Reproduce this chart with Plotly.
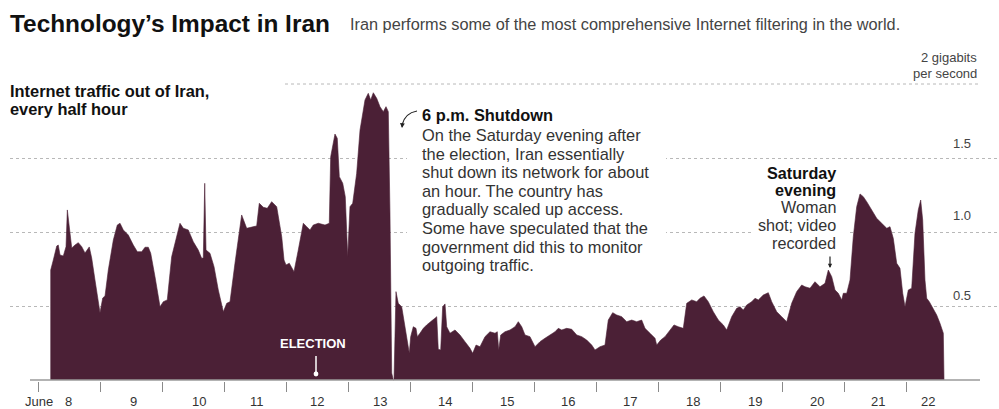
import plotly.graph_objects as go

# ---------------- data ----------------
# time in days since June 8, 00:00 ; traffic in gigabits per second
days = [0.205, 0.205, 0.247, 0.302, 0.327, 0.355, 0.408, 0.452, 0.473, 0.505,
        0.544, 0.597, 0.650, 0.705, 0.758, 0.827, 0.866, 0.919, 1.000, 1.044,
        1.081, 1.134, 1.215, 1.279, 1.323, 1.376, 1.456, 1.537, 1.602, 1.673,
        1.726, 1.779, 1.818, 1.887, 1.968, 2.021, 2.085, 2.156, 2.237, 2.290,
        2.344, 2.424, 2.505, 2.585, 2.640, 2.666, 2.689, 2.710, 2.774, 2.839,
        2.908, 2.989, 3.044, 3.097, 3.177, 3.285, 3.366, 3.447, 3.527, 3.569,
        3.634, 3.698, 3.769, 3.850, 3.931, 3.968, 4.000, 4.053, 4.092, 4.129,
        4.198, 4.279, 4.334, 4.387, 4.440, 4.521, 4.629, 4.698, 4.721, 4.763,
        4.790, 4.827, 4.860, 4.915, 4.956, 4.995, 5.032, 5.076, 5.140, 5.194,
        5.274, 5.327, 5.366, 5.408, 5.463, 5.516, 5.569, 5.613, 5.650, 5.677,
        5.705, 5.731, 5.742, 5.774, 5.811, 5.866, 5.919, 5.989, 6.011, 6.053,
        6.097, 6.118, 6.161, 6.215, 6.269, 6.323, 6.366, 6.403, 6.431, 6.456,
        6.495, 6.527, 6.565, 6.592, 6.645, 6.726, 6.806, 6.887, 6.968, 7.011,
        7.065, 7.129, 7.210, 7.290, 7.371, 7.408, 7.431, 7.463, 7.532, 7.613,
        7.694, 7.747, 7.802, 7.855, 7.935, 8.016, 8.097, 8.177, 8.258, 8.339,
        8.392, 8.447, 8.527, 8.608, 8.689, 8.769, 8.850, 8.931, 8.984, 9.065,
        9.145, 9.198, 9.269, 9.334, 9.415, 9.495, 9.576, 9.656, 9.737, 9.790,
        9.871, 9.952, 9.979, 10.044, 10.113, 10.194, 10.258, 10.327, 10.408, 10.463,
        10.544, 10.624, 10.677, 10.742, 10.811, 10.892, 10.973, 11.053, 11.108, 11.189,
        11.269, 11.323, 11.376, 11.431, 11.511, 11.565, 11.618, 11.698, 11.779, 11.834,
        11.915, 11.995, 12.076, 12.156, 12.237, 12.318, 12.371, 12.452, 12.532, 12.613,
        12.694, 12.747, 12.802, 12.855, 12.908, 12.963, 12.989, 13.044, 13.097, 13.150,
        13.205, 13.258, 13.311, 13.366, 13.447, 13.527, 13.608, 13.689, 13.742, 13.795,
        13.850, 13.903, 13.947, 13.984, 14.037, 14.092, 14.145, 14.198, 14.237, 14.269,
        14.306, 14.334, 14.376, 14.431, 14.495, 14.548, 14.602, 14.613]

gbps = [0.000, 0.743, 0.811, 0.905, 0.912, 0.845, 0.838, 0.901, 1.149, 1.036,
        0.892, 0.912, 0.928, 0.901, 0.858, 0.899, 0.824, 0.676, 0.455, 0.554,
        0.568, 0.743, 0.946, 1.047, 1.059, 1.014, 0.980, 0.912, 0.867, 0.867,
        0.897, 0.897, 0.856, 0.698, 0.495, 0.529, 0.541, 0.833, 0.980, 1.059,
        1.025, 1.014, 0.934, 0.878, 0.822, 0.824, 1.329, 0.878, 0.856, 0.766,
        0.608, 0.461, 0.518, 0.529, 0.789, 1.115, 1.025, 1.032, 1.041, 1.194,
        1.167, 1.160, 1.205, 1.171, 0.968, 0.811, 0.777, 0.789, 0.755, 0.732,
        0.878, 1.059, 1.036, 1.014, 1.047, 1.059, 1.047, 1.059, 1.509, 1.622,
        1.662, 1.633, 1.374, 1.329, 1.239, 0.833, 1.171, 1.194, 1.397, 1.689,
        1.892, 1.937, 1.892, 1.941, 1.903, 1.847, 1.813, 1.847, 1.813, 1.128,
        0.047, 0.000, 0.000, 0.597, 0.518, 0.495, 0.349, 0.180, 0.293, 0.360,
        0.349, 0.293, 0.316, 0.349, 0.372, 0.394, 0.405, 0.417, 0.428, 0.207,
        0.203, 0.495, 0.514, 0.360, 0.316, 0.338, 0.304, 0.259, 0.214, 0.180,
        0.236, 0.225, 0.293, 0.326, 0.316, 0.326, 0.203, 0.304, 0.326, 0.338,
        0.360, 0.394, 0.360, 0.304, 0.293, 0.225, 0.259, 0.282, 0.304, 0.326,
        0.349, 0.338, 0.349, 0.343, 0.304, 0.293, 0.270, 0.236, 0.203, 0.225,
        0.236, 0.405, 0.455, 0.439, 0.428, 0.394, 0.405, 0.394, 0.405, 0.349,
        0.316, 0.282, 0.236, 0.270, 0.293, 0.338, 0.372, 0.360, 0.349, 0.518,
        0.541, 0.529, 0.552, 0.568, 0.529, 0.461, 0.405, 0.372, 0.338, 0.428,
        0.484, 0.495, 0.473, 0.507, 0.529, 0.552, 0.541, 0.574, 0.590, 0.529,
        0.461, 0.428, 0.394, 0.518, 0.597, 0.642, 0.630, 0.620, 0.664, 0.630,
        0.653, 0.743, 0.698, 0.608, 0.586, 0.541, 0.586, 0.586, 0.676, 0.968,
        1.171, 1.257, 1.239, 1.205, 1.149, 1.093, 1.059, 1.025, 1.036, 0.957,
        0.789, 0.755, 0.586, 0.495, 0.608, 0.620, 0.991, 1.149, 1.216, 1.081,
        0.676, 0.552, 0.529, 0.484, 0.439, 0.383, 0.316, 0.000]

day_ticks = list(range(15))                       # midnight boundaries June 8 .. June 22
day_labels = ["8", "9", "10", "11", "12", "13", "14", "15", "16", "17",
              "18", "19", "20", "21", "22"]
label_days = [0.49, 1.54, 2.59, 3.53, 4.50, 5.52, 6.56, 7.56, 8.55, 9.55,
              10.56, 11.56, 12.56, 13.55, 14.36]
grid_vals = [0.5, 1.0, 1.5]
grid_labels = ["0.5", "1.0", "1.5"]
grid_label_shift = [11, 17, 15]
top_grid = 2.0

title = "Technology\u2019s Impact in Iran"
subtitle = "Iran performs some of the most comprehensive Internet filtering in the world."
left_note = ["Internet traffic out of Iran,", "every half hour"]
unit_note = ["2 gigabits", "per second"]
shutdown_head = "6 p.m. Shutdown"
shutdown_body = ["On the Saturday evening after",
                 "the election, Iran essentially",
                 "shut down its network for about",
                 "an hour. The country has",
                 "gradually scaled up access.",
                 "Some have speculated that the",
                 "government did this to monitor",
                 "outgoing traffic."]
sat_head = ["Saturday", "evening"]
sat_body = ["Woman", "shot; video", "recorded"]

# ---------------- styling / geometry ----------------
W, H = 999, 409
ML, MR, MT, MB = 10, 0, 50, 28
PX_PER_DAY = 62.0
PX_PER_UNIT = 148.0
X0_PX = 38.0          # pixel of day 0
Y0_PX = 380.0         # pixel of value 0
FILL = "#4b2036"
GRID = "#b8b8b8"
FONT = "Liberation Sans, Arial, Helvetica, sans-serif"
BODY = 16.4

plot_w = W - ML - MR
plot_h = H - MT - MB
x_range = [(ML - X0_PX) / PX_PER_DAY, (W - MR - X0_PX) / PX_PER_DAY]
y_range = [-(H - MB - Y0_PX) / PX_PER_UNIT, (Y0_PX - MT) / PX_PER_UNIT]


def fx(px):
    return (px - ML) / plot_w


def fy(py):
    return (H - MB - py) / plot_h


def dx(px):
    return (px - X0_PX) / PX_PER_DAY


def vy(py):
    return (Y0_PX - py) / PX_PER_UNIT


fig = go.Figure()
fig.add_trace(go.Scatter(x=days, y=gbps, mode="lines", fill="tozeroy",
                         fillcolor=FILL, line=dict(color=FILL, width=0.6),
                         hoverinfo="skip", showlegend=False))

shapes = []
# top (2 Gbps) gridline, which only spans part of the width
shapes.append(dict(type="line", xref="x", yref="y", x0=dx(285), x1=dx(978),
                   y0=top_grid, y1=top_grid, layer="below",
                   line=dict(color=GRID, width=1, dash="dot")))
# white panels behind the annotation text (interrupt the gridlines)
shapes.append(dict(type="rect", xref="x", yref="y", x0=dx(407), x1=dx(666),
                   y0=vy(276), y1=vy(102), fillcolor="white", line=dict(width=0),
                   layer="between"))
shapes.append(dict(type="rect", xref="x", yref="y", x0=dx(752), x1=dx(849),
                   y0=vy(252), y1=vy(164), fillcolor="white", line=dict(width=0),
                   layer="between"))
# baseline
shapes.append(dict(type="line", xref="x", yref="y", x0=dx(30), x1=dx(980),
                   y0=0, y1=0, line=dict(color="#9a9a9a", width=1.5)))
# curved pointer of the shutdown note
shapes.append(dict(type="path", xref="x", yref="y",
                   path=f"M {dx(417)},{vy(111)} Q {dx(405)},{vy(113)} {dx(402)},{vy(125)}",
                   line=dict(color="#222", width=1.2)))
# ELECTION pointer
shapes.append(dict(type="line", xref="x", yref="y", x0=dx(316), x1=dx(316),
                   y0=vy(356), y1=vy(372), line=dict(color="white", width=1.5)))

ann = []


def text(s, px, py, size=BODY, color="#333", bold=False, anchor="left"):
    ann.append(dict(text=f"<b>{s}</b>" if bold else s, xref="paper", yref="paper",
                    x=fx(px), y=fy(py), xanchor=anchor, yanchor="middle",
                    showarrow=False, borderpad=0,
                    font=dict(family=FONT, size=size, color=color)))


text(title, 9, 24, size=24.4, color="#111", bold=True)
text(subtitle, 349, 24, size=16.3, color="#444")
for i, s in enumerate(left_note):
    text(s, 9, 91 + 18 * i, size=16.4, color="#111", bold=True)
for i, s in enumerate(unit_note):
    text(s, 978, 57 + 16 * i, size=13, color="#444", anchor="right")
text(shutdown_head, 421, 115, size=BODY, color="#111", bold=True)
for i, s in enumerate(shutdown_body):
    text(s, 421, 135 + 18.6 * i, size=BODY, color="#333")
for i, s in enumerate(sat_head):
    text(s, 837, 173 + 16.5 * i, size=16.2, color="#111", bold=True, anchor="right")
for i, s in enumerate(sat_body):
    text(s, 837, 207 + 18.2 * i, size=16.2, color="#333", anchor="right")
text("ELECTION", 313, 343, size=13, color="white", bold=True, anchor="center")
text("June", 39, 401, size=13, color="#333", anchor="center")

# x labels (centred on each day) and y labels (sitting on their gridlines)
for d, lab in zip(label_days, day_labels):
    ann.append(dict(text=lab, xref="x", yref="paper", x=d, y=fy(401),
                    xanchor="center", yanchor="middle", showarrow=False,
                    borderpad=0, font=dict(family=FONT, size=13, color="#333")))
for v, lab, sh in zip(grid_vals, grid_labels, grid_label_shift):
    ann.append(dict(text=lab, xref="paper", yref="y", x=fx(973), y=v, yshift=sh,
                    xanchor="right", yanchor="middle", showarrow=False,
                    font=dict(family=FONT, size=13, color="#444")))

# arrowheads
ann.append(dict(text="", xref="x", yref="y", x=dx(402), y=vy(128), ax=0.5, ay=-6,
                showarrow=True, arrowhead=2, arrowsize=0.8, arrowwidth=1.2,
                arrowcolor="#222", standoff=0))
ann.append(dict(text="", xref="x", yref="y", x=dx(830), y=vy(268), ax=0, ay=-13,
                showarrow=True, arrowhead=2, arrowsize=0.7, arrowwidth=1.2,
                arrowcolor="#222", standoff=0))
ann.append(dict(text="", xref="x", yref="y", x=dx(316), y=vy(374), ax=0, ay=-4,
                showarrow=True, arrowhead=6, arrowsize=0.8, arrowwidth=1.5,
                arrowcolor="white", standoff=0))

fig.update_layout(
    width=W, height=H,
    margin=dict(l=ML, r=MR, t=MT, b=MB, pad=0),
    paper_bgcolor="white", plot_bgcolor="white",
    showlegend=False,
    xaxis=dict(range=x_range, tickvals=day_ticks, ticks="outside", ticklen=10,
               tickcolor="#8a8a8a", tickwidth=1, showticklabels=False,
               showgrid=False, zeroline=False, showline=False, fixedrange=True),
    yaxis=dict(range=y_range, tickvals=grid_vals, showticklabels=False,
               showgrid=True, gridcolor=GRID, griddash="dot", gridwidth=1,
               zeroline=False, showline=False, ticks="", fixedrange=True),
    shapes=shapes, annotations=ann,
)

fig.write_html("out.html", config={"displayModeBar": False},
               post_script="document.body.style.margin='0';"
                           "document.body.style.overflow='hidden';")
